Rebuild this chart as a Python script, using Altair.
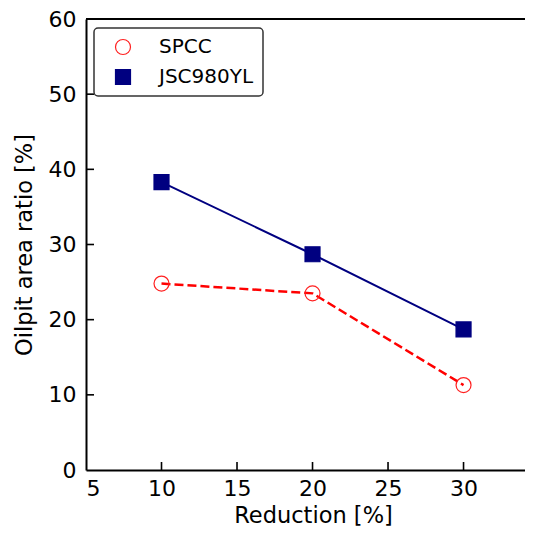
import altair as alt
import pandas as pd

reduction = [10, 20, 30]
spcc = [24.8, 23.5, 11.3]
jsc = [38.3, 28.7, 18.7]
series = ["SPCC", "JSC980YL"]
x_ticks = [5, 10, 15, 20, 25, 30]
y_ticks = [0, 10, 20, 30, 40, 50, 60]

df = pd.DataFrame(
    [{"Reduction": r, "Ratio": v, "Series": "SPCC"} for r, v in zip(reduction, spcc)]
    + [{"Reduction": r, "Ratio": v, "Series": "JSC980YL"} for r, v in zip(reduction, jsc)]
)

W, H = 439, 451
FONT = "DejaVu Sans"
XMAX = 34.07

xscale = alt.Scale(domain=[5, XMAX], nice=False, zero=False)
yscale = alt.Scale(domain=[0, 60], nice=False)

xenc = alt.X("Reduction:Q", scale=xscale,
             axis=alt.Axis(values=x_ticks, title="Reduction [%]", grid=False, ticks=False,
                           labelPadding=8, titlePadding=5, titleX=227, format="d"))
yenc = alt.Y("Ratio:Q", scale=yscale,
             axis=alt.Axis(values=y_ticks, title="Oilpit area ratio [%]", grid=False, ticks=False,
                           labelPadding=10, titlePadding=12, format="d"))

base = alt.Chart(df)
line_spcc = base.transform_filter(alt.datum.Series == "SPCC").mark_line(
    color="#ff0000", strokeWidth=2.5, strokeDash=[9, 4]).encode(x=xenc, y=yenc)
line_jsc = base.transform_filter(alt.datum.Series == "JSC980YL").mark_line(
    color="#000080", strokeWidth=2).encode(x=xenc, y=yenc)

points = base.mark_point(size=225, strokeWidth=1.2, opacity=1).encode(
    x=xenc, y=yenc,
    color=alt.Color("Series:N", scale=alt.Scale(domain=series, range=["#ff2020", "#000080"]),
                    title=None),
    fill=alt.Fill("Series:N", scale=alt.Scale(domain=series, range=["transparent", "#000080"]),
                  title=None),
    shape=alt.Shape("Series:N", scale=alt.Scale(domain=series, range=["circle", "square"]),
                    title=None),
)

ytick_df = pd.DataFrame({"Ratio": y_ticks[1:-1]})
xtick_df = pd.DataFrame({"Reduction": x_ticks[1:]})

yticks = alt.Chart(ytick_df).mark_rule(color="black", strokeWidth=1.6).encode(
    y=yenc, x=alt.value(0), x2=alt.value(8))
xticks = alt.Chart(xtick_df).mark_rule(color="black", strokeWidth=1.6).encode(
    x=xenc, y=alt.value(H), y2=alt.value(H - 8))

topspine = alt.Chart(pd.DataFrame({"Reduction": [5], "End": [XMAX]})).mark_rule(
    color="black", strokeWidth=2).encode(
    x=xenc, x2="End:Q", y=alt.value(0))

chart = alt.layer(line_spcc, line_jsc, points, yticks, xticks, topspine).properties(
    width=W, height=H,
    autosize=alt.AutoSizeParams(type="none"),
    padding={"left": 78, "top": 11, "right": 0, "bottom": 57},
).configure_view(
    stroke=None
).configure_axis(
    domainColor="black", domainWidth=2,
    labelFont=FONT, labelFontSize=22, labelColor="black",
    titleFont=FONT, titleFontSize=22.5, titleColor="black", titleFontWeight="normal",
).configure_legend(
    orient="none", legendX=8, legendY=9,
    strokeColor="#333333", strokeWidth=1.5, fillColor="white", cornerRadius=4,
    padding=9, rowPadding=10,
    labelFont=FONT, labelFontSize=20, labelColor="black",
    symbolSize=225, symbolStrokeWidth=1.2, symbolOffset=10, labelOffset=26,
)

chart.save("out.html", embed_options={"renderer": "svg", "actions": False})
